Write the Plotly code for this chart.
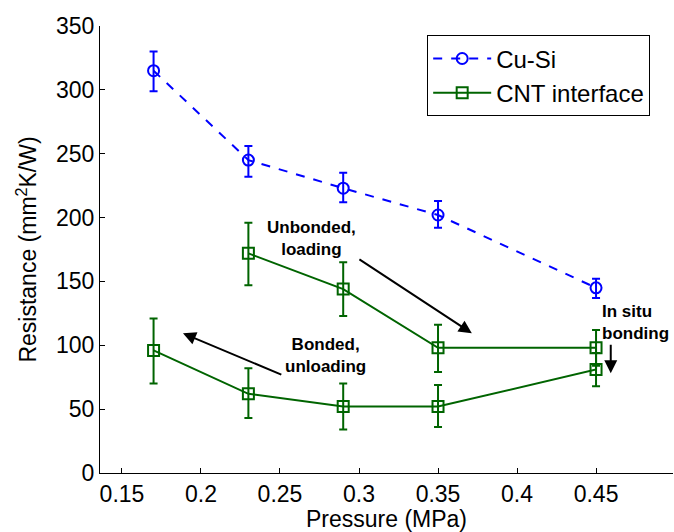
import plotly.graph_objects as go

# Data
cu_x = [0.17, 0.23, 0.29, 0.35, 0.45]
cu_y = [315, 245, 223, 202, 145]
cu_err_plus = [15, 11, 12, 11, 7]
cu_err_minus = [16, 13, 11, 10, 8]

cnt_x = [0.23, 0.29, 0.35, 0.45, 0.45, 0.35, 0.29, 0.23, 0.17]
cnt_y = [172, 144, 98, 98, 81, 52, 52, 62, 96]
cnt_err_plus = [24, 21, 18, 14, 13, 17, 18, 20, 25]
cnt_err_minus = [25, 21, 19, 14, 13, 16, 18, 19, 26]

x_ticks = [0.15, 0.2, 0.25, 0.3, 0.35, 0.4, 0.45]
y_ticks = [0, 50, 100, 150, 200, 250, 300, 350]

BLUE = "rgb(0,0,255)"
GREEN = "rgb(0,100,0)"
FONT = "Liberation Sans, Arial, sans-serif"

fig = go.Figure()
fig.add_trace(go.Scatter(
    x=cu_x, y=cu_y, name="Cu-Si", mode="lines+markers",
    line=dict(color=BLUE, width=2, dash="dash"),
    marker=dict(symbol="circle-open", size=11, color=BLUE, line=dict(width=2, color=BLUE)),
    error_y=dict(type="data", symmetric=False, array=cu_err_plus, arrayminus=cu_err_minus,
                 color=BLUE, thickness=2, width=4),
))
fig.add_trace(go.Scatter(
    x=cnt_x, y=cnt_y, name="CNT interface", mode="lines+markers",
    line=dict(color=GREEN, width=2),
    marker=dict(symbol="square-open", size=11, color=GREEN, line=dict(width=2, color=GREEN)),
    error_y=dict(type="data", symmetric=False, array=cnt_err_plus, arrayminus=cnt_err_minus,
                 color=GREEN, thickness=2, width=4),
))

def arrow(tx, ty, hx, hy):
    fig.add_annotation(x=hx, y=hy, ax=tx, ay=ty, xref="x", yref="y", axref="x", ayref="y",
                       text="", showarrow=True, arrowhead=2, arrowsize=1.3, arrowwidth=2,
                       arrowcolor="black")

arrow(0.2993, 168.1, 0.3714, 109.4)
arrow(0.2518, 76.5, 0.1886, 109.4)
arrow(0.4593, 101.6, 0.4593, 78.1)

ann_font = dict(family=FONT, size=17, color="black")
fig.add_annotation(x=0.2702, y=184, xref="x", yref="y", text="<b>Unbonded,<br>loading</b>",
                   showarrow=False, font=ann_font, align="center")
fig.add_annotation(x=0.279, y=92, xref="x", yref="y", text="<b>Bonded,<br>unloading</b>",
                   showarrow=False, font=ann_font, align="center")
fig.add_annotation(x=0.4528, y=117.5, xref="x", yref="y", text="<b>In situ<br>bonding</b>",
                   showarrow=False, font=ann_font, align="left", xanchor="left")

fig.update_layout(
    width=674, height=532,
    margin=dict(l=100, r=1, t=26, b=59, autoexpand=False),
    paper_bgcolor="white", plot_bgcolor="white",
    font=dict(family=FONT, size=23, color="black"),
    showlegend=True,
    legend=dict(x=0.571, y=0.979, xanchor="left", yanchor="top",
                bordercolor="black", borderwidth=1, bgcolor="white",
                font=dict(family=FONT, size=24, color="black"),
                itemwidth=58, tracegroupgap=0),
)
fig.update_xaxes(range=[0.1361, 0.4987], tickvals=x_ticks, ticktext=[str(v) for v in x_ticks],
                 ticks="inside", ticklen=5, tickcolor="black", showline=True, linecolor="black",
                 linewidth=1, showgrid=False, zeroline=False, mirror=False, automargin=False,
                 tickfont=dict(size=23),
                 title=dict(text="Pressure (MPa)", standoff=6, font=dict(size=23)))
fig.update_yaxes(range=[0, 350], tickvals=y_ticks, ticks="inside", ticklen=5, tickcolor="black",
                 showline=True, linecolor="black", linewidth=1, showgrid=False, zeroline=False,
                 mirror=False, automargin=False, tickfont=dict(size=23),
                 title=dict(text="Resistance (mm<sup>2</sup>K/W)", standoff=12, font=dict(size=23)))

fig.write_html("out.html", config={"displayModeBar": False},
               post_script="document.body.style.margin='0';")
